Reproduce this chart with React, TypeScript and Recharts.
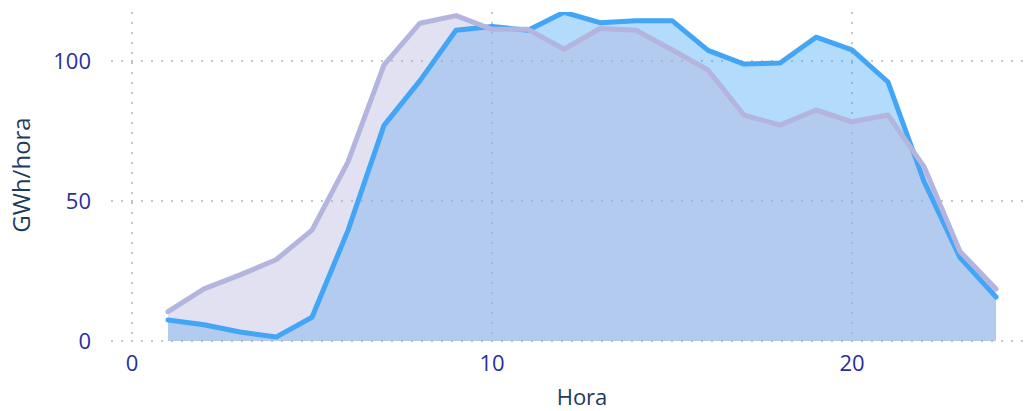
import React from "react";
import { ComposedChart, Area, Line, XAxis, YAxis, CartesianGrid } from "recharts";

const horas = [1, 2, 3, 4, 5, 6, 7, 8, 9, 10, 11, 12, 13, 14, 15, 16, 17, 18, 19, 20, 21, 22, 23, 24];
const serieAzul = [7.5, 5.8, 3.2, 1.4, 8.5, 39.5, 77, 93, 111, 112.3, 111, 117.4, 113.7, 114.4, 114.4, 103.8, 98.9, 99.3, 108.5, 104, 92.5, 57, 29.8, 15.7];
const serieMorada = [10.5, 18.6, 23.6, 29, 39.6, 64, 98.6, 113.5, 116.2, 111.3, 111.3, 104.2, 111.6, 111, 104, 96.8, 80.7, 77.1, 82.5, 78.3, 80.7, 62.3, 32, 18.6];
const xTicks = [0, 10, 20];
const yTicks = [0, 50, 100];

const data = horas.map((h, i) => ({ hora: h, azul: serieAzul[i], morada: serieMorada[i] }));

const BLUE = "#42A5F5";
const PURPLE = "#B3B5DE";
const TICK = "#2A2EA0";
const TITLE = "#1E3A5F";
const FONT = "'Open Sans', sans-serif";

export default function App() {
  return (
    <div style={{ position: "absolute", left: 0, top: 0 }}>
      <ComposedChart
        width={1036}
        height={411}
        data={data}
        margin={{ top: 12, right: 6, bottom: 0, left: 0 }}
        style={{ fontFamily: FONT }}
      >
        <CartesianGrid stroke="#c4c4c4" strokeWidth={2} strokeDasharray="2 8" horizontalValues={yTicks} verticalValues={xTicks} />
        <XAxis
          dataKey="hora"
          type="number"
          domain={[-0.5833, 24.944]}
          allowDataOverflow
          ticks={xTicks}
          height={70}
          axisLine={false}
          tickLine={false}
          tickSize={0}
          tickMargin={14}
          tick={{ fill: TICK, fontSize: 22, fontFamily: FONT }}
          label={() => (
            <text x={582} y={405} textAnchor="middle" fill={TITLE} fontSize={22} fontFamily={FONT}>
              Hora
            </text>
          )}
        />
        <YAxis
          type="number"
          domain={[0, 117.5]}
          allowDataOverflow
          ticks={yTicks}
          width={111}
          axisLine={false}
          tickLine={false}
          tickSize={0}
          tickMargin={20}
          tick={{ fill: TICK, fontSize: 22, fontFamily: FONT }}
          label={() => (
            <text
              x={0}
              y={0}
              transform="translate(30,175) rotate(-90)"
              textAnchor="middle"
              fill={TITLE}
              fontSize={24}
              fontFamily={FONT}
            >
              GWh/hora
            </text>
          )}
        />
        <Area dataKey="azul" type="linear" stroke="none" fill={BLUE} fillOpacity={0.4} isAnimationActive={false} />
        <Area dataKey="morada" type="linear" stroke="none" fill={PURPLE} fillOpacity={0.4} isAnimationActive={false} />
        <Line dataKey="azul" type="linear" stroke={BLUE} strokeWidth={5} strokeLinecap="round" strokeLinejoin="round" dot={false} activeDot={false} isAnimationActive={false} />
        <Line dataKey="morada" type="linear" stroke={PURPLE} strokeWidth={5} strokeLinecap="round" strokeLinejoin="round" dot={false} activeDot={false} isAnimationActive={false} />
      </ComposedChart>
    </div>
  );
}
